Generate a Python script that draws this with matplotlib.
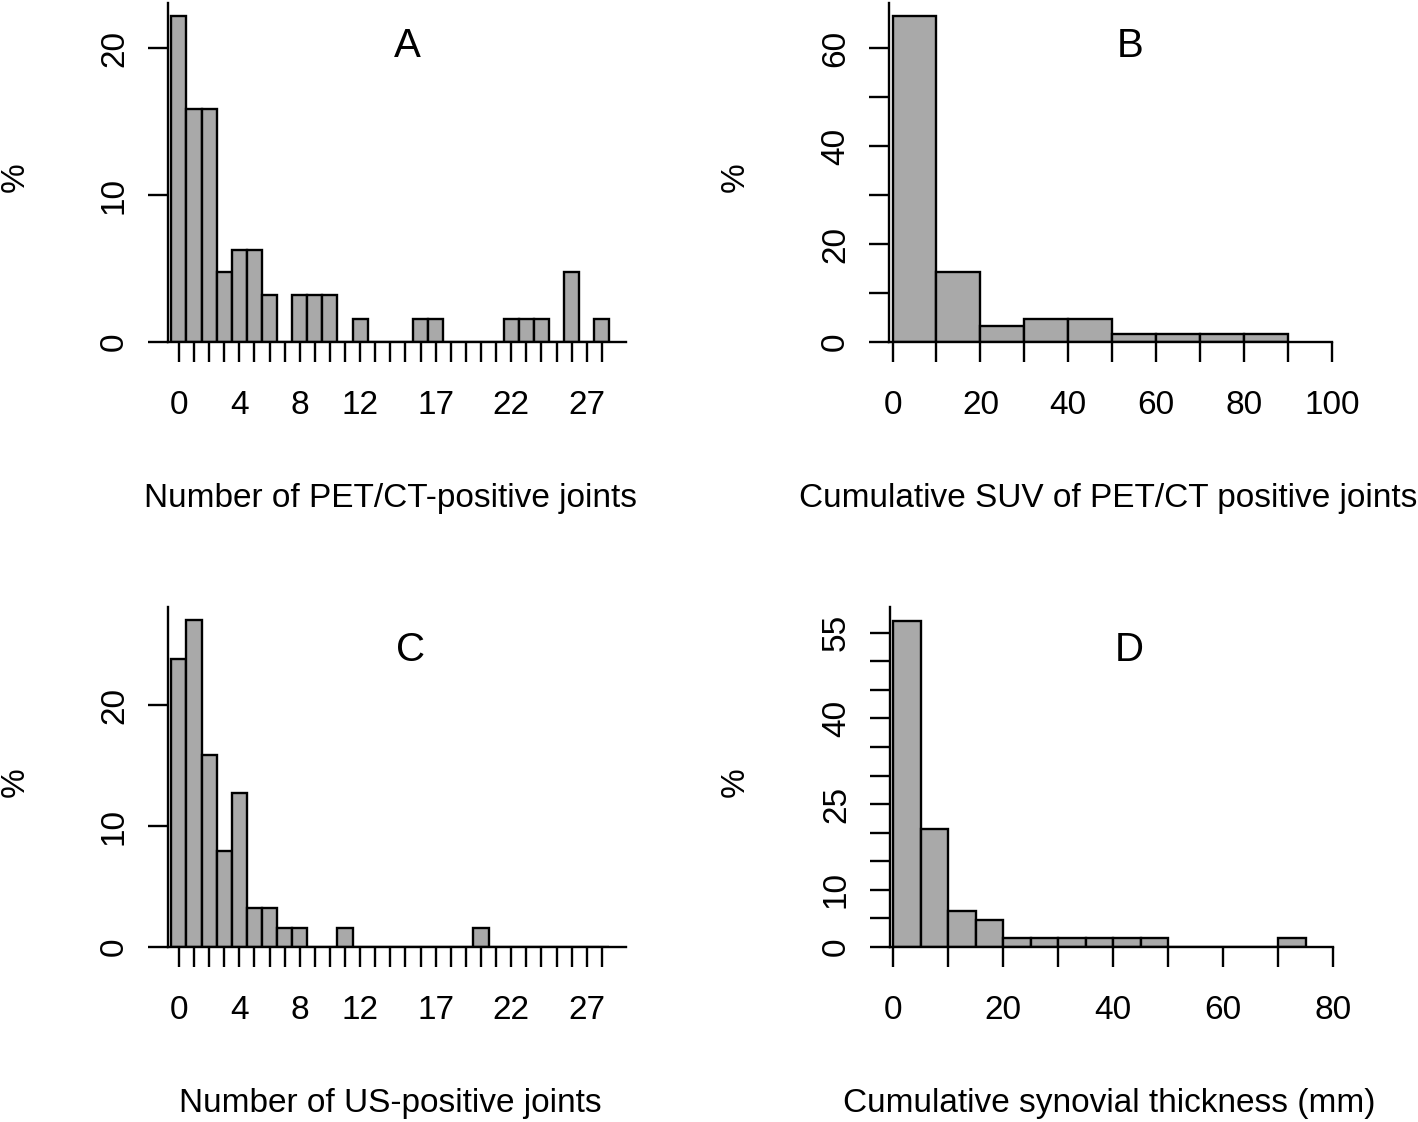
import numpy as np
import matplotlib
matplotlib.use("Agg")
import matplotlib.pyplot as plt

plt.rcParams['font.family'] = ['Liberation Sans', 'DejaVu Sans']

# panel A: % of patients by number of PET/CT-positive joints (0..28)
pet_joints = np.arange(29)
pet_pct = [22.2, 15.9, 15.9, 4.8, 6.3, 6.3, 3.2, 0, 3.2, 3.2, 3.2, 0, 1.6, 0, 0,
           0, 1.6, 1.6, 0, 0, 0, 0, 1.6, 1.6, 1.6, 0, 4.8, 0, 1.6]
joint_labels = [0, 4, 8, 12, 17, 22, 27]

# panel B: cumulative SUV histogram, bins of 10
suv_edges = [0, 10, 20, 30, 40, 50, 60, 70, 80, 90]
suv_pct = [66.7, 14.3, 3.2, 4.8, 4.8, 1.6, 1.6, 1.6, 1.6]

# panel C: % of patients by number of US-positive joints (0..28)
us_joints = np.arange(29)
us_pct = [23.8, 27.0, 15.9, 7.9, 12.7, 3.2, 3.2, 1.6, 1.6, 0, 0, 1.6, 0, 0, 0,
          0, 0, 0, 0, 0, 1.6, 0, 0, 0, 0, 0, 0, 0, 0]

# panel D: cumulative synovial thickness histogram, bins of 5 mm
syn_edges = [0, 5, 10, 15, 20, 25, 30, 35, 40, 45, 50, 55, 60, 65, 70, 75]
syn_pct = [57.1, 20.6, 6.3, 4.8, 1.6, 1.6, 1.6, 1.6, 1.6, 1.6, 0, 0, 0, 0, 1.6]

W, H = 1418, 1122
fig = plt.figure(figsize=(W / 100, H / 100), dpi=100)

BAR = '#a9a9a9'
LW = 1.7
FS = 24


def panel(left, right, top, bottom):
    ax = fig.add_axes([left / W, 1 - bottom / H, (right - left) / W, (bottom - top) / H])
    for s in ['top', 'right']:
        ax.spines[s].set_visible(False)
    for s in ['left', 'bottom']:
        ax.spines[s].set_linewidth(LW)
    ax.tick_params(axis='both', length=14.4, width=LW, labelsize=FS)
    ax.tick_params(axis='x', pad=20)
    ax.tick_params(axis='y', pad=13)
    return ax


def yticks(ax, ticks, labels):
    ax.set_yticks(ticks)
    ax.set_yticklabels(labels, rotation=90, va='center')


# A
ax = panel(168, 626, 3, 342)
ax.bar(pet_joints, pet_pct, width=1.0, color=BAR, edgecolor='black', linewidth=LW)
ax.set_xlim(-0.72, 29.6)
ax.set_ylim(0, 23.1)
ax.set_xticks(pet_joints)
ax.set_xticklabels([str(j) if j in joint_labels else '' for j in pet_joints])
yticks(ax, [0, 10, 20], ['0', '10', '20'])
ax.text(0.522, 0.84, 'A', transform=ax.transAxes, ha='center', va='baseline', fontsize=29)

# B
ax = panel(889, 1332, 3, 342)
ax.bar(suv_edges[:-1], suv_pct, width=np.diff(suv_edges), align='edge',
       color=BAR, edgecolor='black', linewidth=LW)
ax.set_xlim(-0.8, 100)
ax.set_ylim(0, 69.3)
ax.set_xticks(np.arange(0, 101, 10))
ax.set_xticklabels([str(v) if v % 20 == 0 else '' for v in range(0, 101, 10)])
yticks(ax, np.arange(0, 61, 10), ['0', '', '20', '', '40', '', '60'])
ax.text(0.544, 0.84, 'B', transform=ax.transAxes, ha='center', va='baseline', fontsize=29)

# C
ax = panel(168, 626, 607, 947)
ax.bar(us_joints, us_pct, width=1.0, color=BAR, edgecolor='black', linewidth=LW)
ax.set_xlim(-0.72, 29.6)
ax.set_ylim(0, 28.1)
ax.set_xticks(us_joints)
ax.set_xticklabels([str(j) if j in joint_labels else '' for j in us_joints])
yticks(ax, [0, 10, 20], ['0', '10', '20'])
ax.text(0.53, 0.84, 'C', transform=ax.transAxes, ha='center', va='baseline', fontsize=29)

# D
ax = panel(890, 1333, 607, 947)
ax.bar(syn_edges[:-1], syn_pct, width=np.diff(syn_edges), align='edge',
       color=BAR, edgecolor='black', linewidth=LW)
ax.set_xlim(-0.58, 80)
ax.set_ylim(0, 59.5)
ax.set_xticks(np.arange(0, 81, 10))
ax.set_xticklabels([str(v) if v % 20 == 0 else '' for v in range(0, 81, 10)])
yticks(ax, np.arange(0, 56, 5),
       ['0', '', '10', '', '', '25', '', '', '40', '', '', '55'])
ax.text(0.54, 0.84, 'D', transform=ax.transAxes, ha='center', va='baseline', fontsize=29)

# axis titles
xlabels = [('Number of PET/CT-positive joints', 390, 507),
           ('Cumulative SUV of PET/CT positive joints', 1108, 507),
           ('Number of US-positive joints', 390, 1112),
           ('Cumulative synovial thickness (mm)', 1109, 1112)]
for txt, x, y in xlabels:
    fig.text(x / W, 1 - y / H, txt, ha='center', va='baseline', fontsize=FS)

for x, y in [(15, 177), (735, 177), (15, 782), (735, 782)]:
    fig.text(x / W, 1 - y / H, '%', ha='center', va='center', rotation=90, fontsize=FS)

fig.savefig('out.png', dpi=100, facecolor='white')
